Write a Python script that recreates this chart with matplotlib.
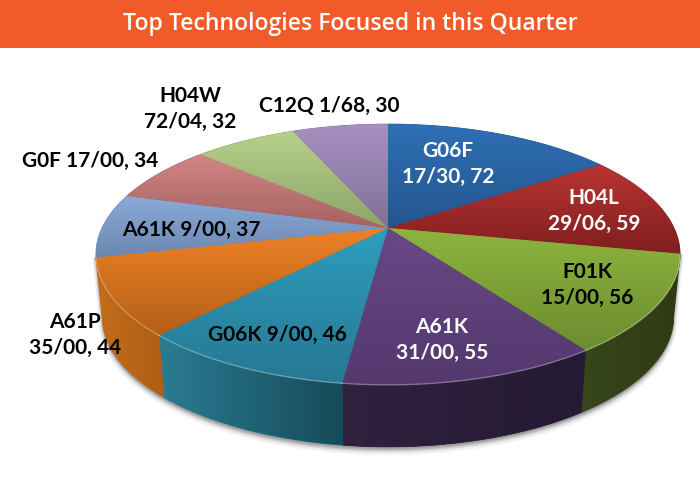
import numpy as np
import matplotlib
matplotlib.use("Agg")
import matplotlib.pyplot as plt
from matplotlib.colors import LinearSegmentedColormap
from matplotlib.patches import Polygon, Rectangle

title = "Top Technologies Focused in this Quarter"
codes = ["G06F\n17/30", "H04L\n29/06", "F01K\n15/00", "A61K\n31/00", "G06K 9/00",
         "A61P\n35/00", "A61K 9/00", "G0F 17/00", "H04W\n72/04", "C12Q 1/68"]
values = [72, 59, 56, 55, 46, 44, 37, 34, 32, 30]

# gradient colours of each slice (top of slice, bottom of slice)
top_colors = [("#2F6FB4", "#24568F"), ("#B93432", "#7F1F1E"), ("#8DB53F", "#6C8C2F"),
              ("#6A4886", "#53386D"), ("#2E9EBE", "#267893"), ("#EE8226", "#B35F18"),
              ("#8BAADA", "#6C88B0"), ("#D28684", "#A46361"), ("#B6D08A", "#8DA468"),
              ("#A690C2", "#827097")]
# wall colours, left to right
wall_colors = [("#2E3A14", "#38461B"), ("#30213F", "#241A33"), ("#2A7C93", "#164A59"),
               ("#C46D1A", "#AE5E14")]
text_colors = ["white", "white", "black", "white", "black",
               "black", "black", "black", "black", "black"]

# where each label sits (pixels) and where the wall shows
label_xy = [(448, 164), (594, 211), (587, 285), (442, 340), (277, 335),
            (75, 335), (191, 230), (90, 161), (190, 109), (329, 106)]
cx, cy = 388, 228
rx, ry, k = 286, 125, 0.203
wall_h = 62
wall_shrink = 0.978
wall_from, wall_to = 101.7, 257.0


def project(theta, r=1.0):
    # circle seen in perspective, theta clockwise from the top
    t = np.radians(theta)
    u = r * np.sin(t)
    v = r * np.cos(t)
    d = 1 + k * v
    return cx + rx * u / d, cy - ry * v / d


def gradient(ax, xs, ys, c1, c2, horizontal=False, zorder=2):
    cmap = LinearSegmentedColormap.from_list("g", [c1, c2])
    g = np.linspace(0, 1, 128)
    g = g.reshape(1, -1) if horizontal else g.reshape(-1, 1)
    ax.fill(xs, ys, color=c1 if horizontal else c2, lw=0.6, zorder=zorder)
    im = ax.imshow(g, cmap=cmap, aspect="auto", zorder=zorder + 0.1,
                   extent=(min(xs), max(xs), max(ys), min(ys)))
    poly = Polygon(np.column_stack([xs, ys]), transform=ax.transData, fc="none", ec="none")
    ax.add_patch(poly)
    im.set_clip_path(poly)


fig = plt.figure(figsize=(7, 4.8), dpi=100)
ax = fig.add_axes([0, 0, 1, 1])

edges = np.cumsum([0] + values) / sum(values) * 360

# soft shadow under the pie
sh = np.linspace(wall_from, wall_to, 200)
sx, sy = project(sh)
sbx = cx + (sx - cx) * wall_shrink
for i, a in zip([5, 4, 3, 2, 1], [0.05, 0.07, 0.09, 0.12, 0.16]):
    ax.fill(np.r_[sx, sbx[::-1]], np.r_[sy, sy[::-1] + wall_h + i], color="#555555",
            alpha=a, lw=i, zorder=1)

# front wall
w = 0
for i in range(len(values)):
    a = max(edges[i], wall_from)
    b = min(edges[i + 1], wall_to)
    if b <= a:
        continue
    th = np.linspace(a, b, 80)
    x, y = project(th)
    bx = cx + (x - cx) * wall_shrink
    c_left, c_right = wall_colors[w]
    if i == 2:
        c_left, c_right = c_right, c_left
    gradient(ax, np.r_[x, bx[::-1]], np.r_[y, y[::-1] + wall_h], c_left, c_right,
             horizontal=True, zorder=2)
    w += 1

# top of the pie
for i in range(len(values)):
    th = np.linspace(edges[i], edges[i + 1], 100)
    x, y = project(th)
    gradient(ax, np.r_[cx, x], np.r_[cy, y], top_colors[i][0], top_colors[i][1], zorder=3)
    vis = (th > wall_from) & (th < wall_to)
    if vis.any():
        ax.plot(x[vis], y[vis], color="white", alpha=0.3, lw=1, zorder=4)

# labels
for i in range(len(values)):
    ax.text(label_xy[i][0], label_xy[i][1], f"{codes[i]}, {values[i]}", color=text_colors[i],
            family="Lato", weight="bold", fontsize=15, ha="center", va="center",
            linespacing=1.35, zorder=5)

# header
ax.add_patch(Rectangle((0, 0), 700, 48, color="#F15A29", lw=0, zorder=6))
ax.text(350, 24, title, color="white", family="Open Sans", weight="semibold", fontsize=16.6,
        ha="center", va="center", zorder=7)

ax.set_xlim(0, 700)
ax.set_ylim(480, 0)
ax.axis("off")
fig.savefig("out.png", dpi=100)
